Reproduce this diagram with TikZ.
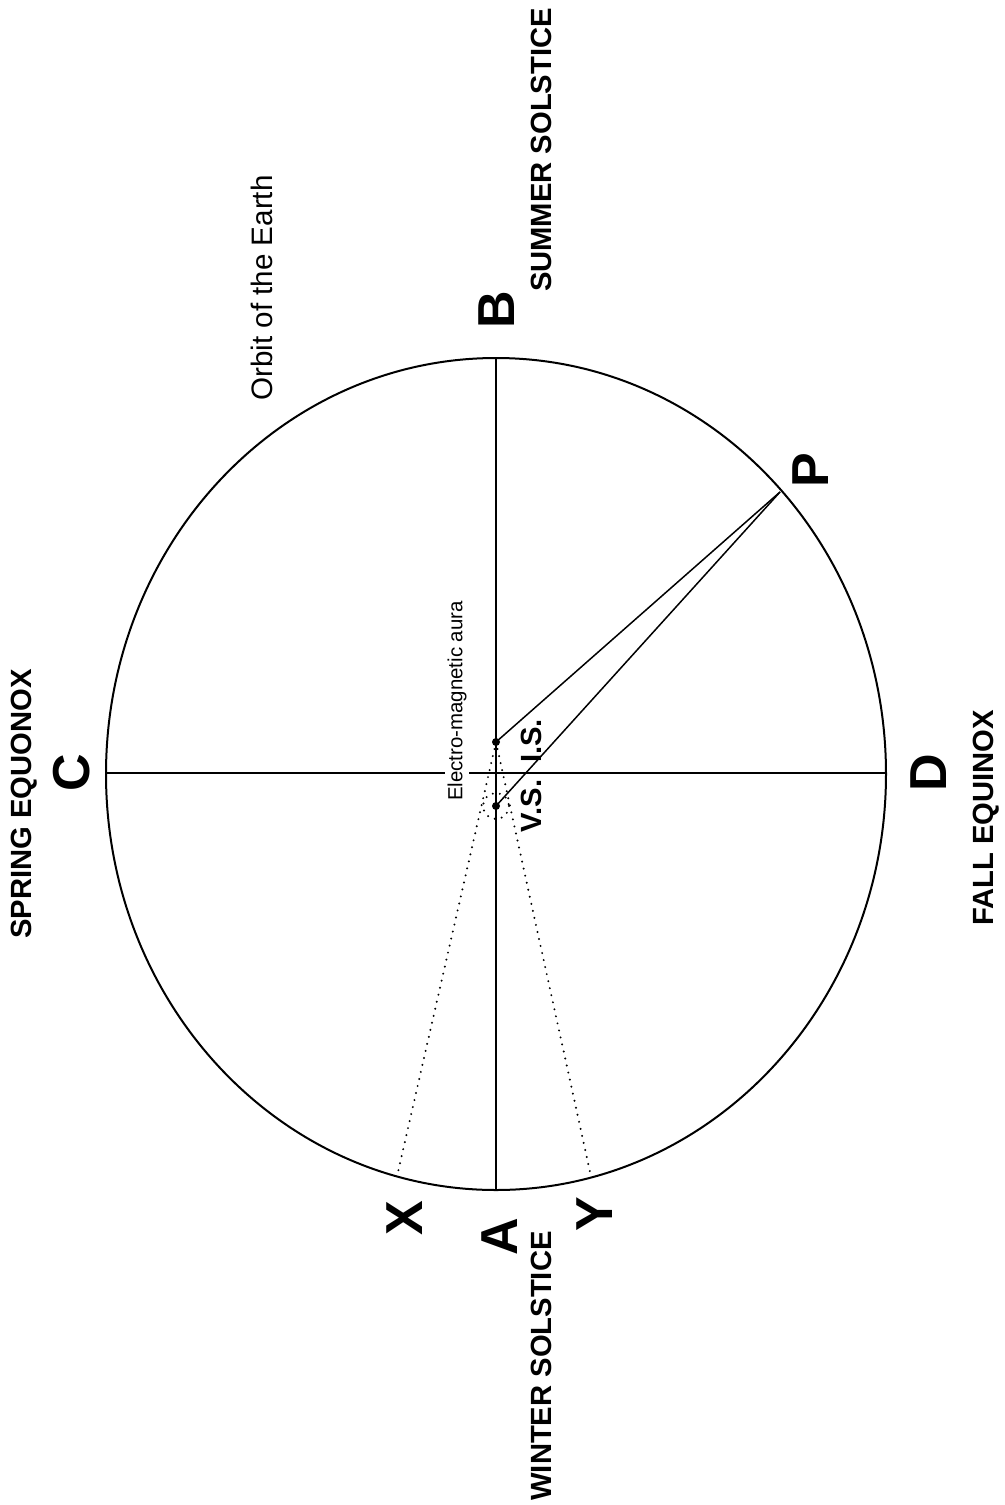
\documentclass[tikz,border=0pt]{standalone}
\usepackage{fontspec}
\setmainfont{Liberation Sans}
\begin{document}
\begin{tikzpicture}[
			x=0.5pt, y=-0.5pt,
			orbit/.style={line width=1pt},
			ray/.style={line width=0.75pt},
			trace/.style={line width=1.1pt,line cap=round,dash pattern=on 0pt off 3.6pt},
			point/.style={circle,fill,inner sep=0pt,minimum size=4pt},
			letter/.style={rotate=90,inner sep=0pt,font=\bfseries\fontsize{26}{26}\selectfont},
			season/.style={rotate=90,inner sep=0pt,font=\bfseries\fontsize{14.6}{14.6}\selectfont}
			]
			\useasboundingbox (0,0) rectangle (1005,1505);
			% orbit and its axes
			\coordinate (sun) at (496,774);
			\draw[orbit] (sun) ellipse [x radius=390, y radius=416];
			\coordinate (a) at (496,1190);
			\coordinate (b) at (496,358);
			\coordinate (c) at (106,773);
			\coordinate (d) at (886,773);
			\coordinate (p) at (780,492);
			\coordinate (x) at (398,1172);
			\coordinate (y) at (590,1172);
			\draw[ray] (b)--(a);
			\draw[ray] (c)--(d);
			% the two points and their rays
			\node[point] (is) at (496,742) {};
			\node[point] (vs) at (496,806) {};
			\draw[ray] (is.center)--(p);
			\draw[ray] (vs.center)--(p);
			\draw[trace] (is.center)--(x);
			\draw[trace] (is.center)--(y);
			\draw[trace] (vs.center) circle [radius=13];
			\node[rotate=90,fill=white,inner sep=1pt,font=\fontsize{10.2}{10.2}\selectfont] (aura) at (457,701) {Electro-magnetic aura};
			% labels
			\node[letter] (lb) at (497,310) {B};
			\node[letter] (lp) at (811,470) {P};
			\node[letter] (lc) at (72,773) {C};
			\node[letter] (ld) at (929,773) {D};
			\node[letter] (lx) at (405,1218) {X};
			\node[letter] (la) at (500,1237) {A};
			\node[letter] (ly) at (595,1214) {Y};
			\node[season] (summer) at (541,150) {SUMMER SOLSTICE};
			\node[season] (winter) at (541,1366) {WINTER SOLSTICE};
			\node[season] (spring) at (24,804) {SPRING EQUONOX};
			\node[season] (fall) at (986,818) {FALL EQUINOX};
			\node[season] (lis) at (531,741) {I.S.};
			\node[season] (lvs) at (531,806) {V.S.};
			\node[rotate=90,inner sep=0pt,font=\fontsize{14.8}{14.8}\selectfont] (orbitlabel) at (262,288) {Orbit of the Earth};
		\end{tikzpicture}
\end{document}
